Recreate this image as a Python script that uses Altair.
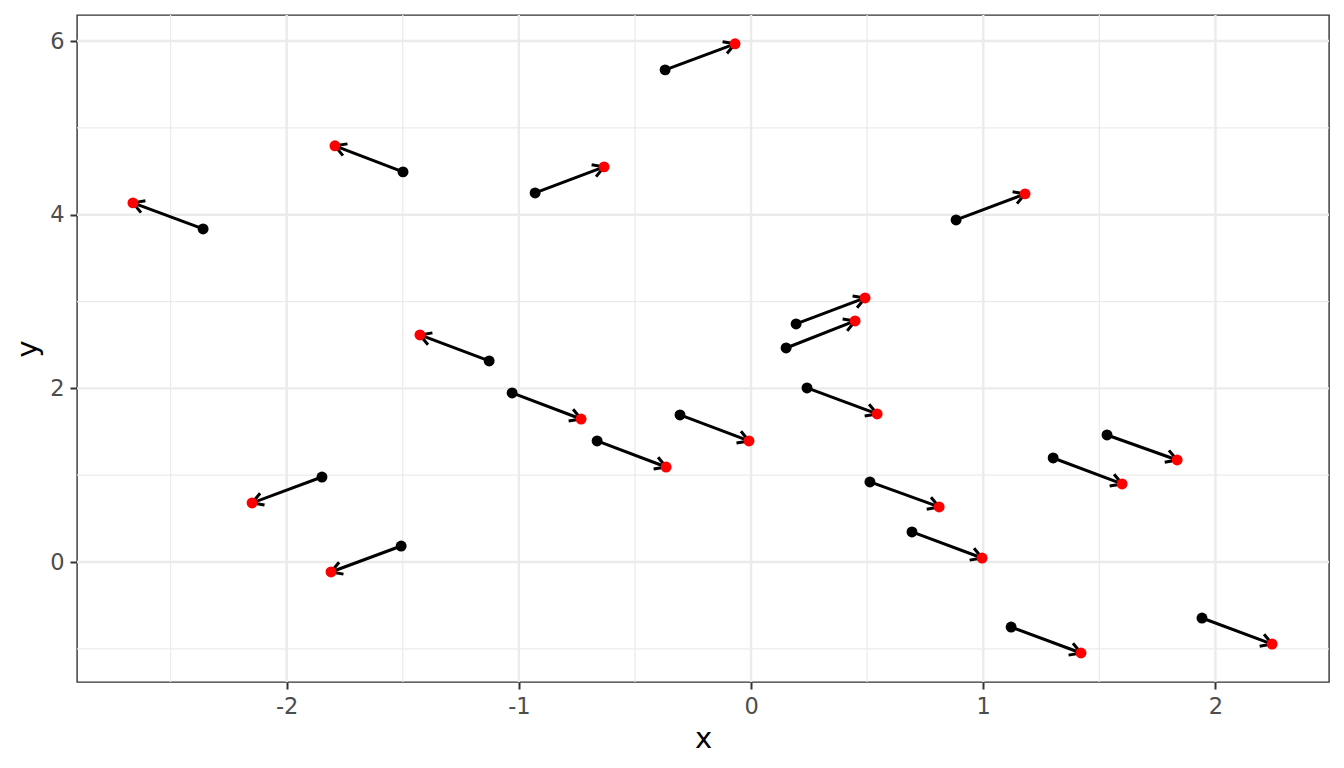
import altair as alt
import pandas as pd

# Arrow start (black points) and end (red points)
x_start = [-0.370, -1.499, -2.360, -0.930, 0.883, 0.194, 0.151, -1.128, -1.029, 0.241,
           -0.306, -0.663, 1.533, 1.301, -1.848, 0.512, -1.507, 0.693, 1.120, 1.942]
y_start = [5.668, 4.493, 3.836, 4.251, 3.940, 2.742, 2.465, 2.316, 1.947, 2.005,
           1.694, 1.394, 1.463, 1.198, 0.979, 0.922, 0.184, 0.346, -0.749, -0.645]
x_end = [-0.069, -1.792, -2.662, -0.633, 1.180, 0.491, 0.448, -1.426, -0.732, 0.543,
         -0.009, -0.366, 1.835, 1.598, -2.149, 0.810, -1.809, 0.995, 1.421, 2.244]
y_end = [5.968, 4.793, 4.136, 4.551, 4.240, 3.041, 2.776, 2.615, 1.647, 1.705,
         1.394, 1.094, 1.175, 0.899, 0.680, 0.634, -0.115, 0.046, -1.048, -0.945]

x_major = [-2, -1, 0, 1, 2]
x_minor = [-2.5, -1.5, -0.5, 0.5, 1.5]
y_major = [0, 2, 4, 6]
y_minor = [-1, 1, 3, 5]

XDOM = [-2.903, 2.489]
YDOM = [-1.382, 6.300]
W, H = 1252, 667
FONT = "DejaVu Sans"

df = pd.DataFrame({"x": x_start, "y": y_start, "xend": x_end, "yend": y_end})
kx = W / (XDOM[1] - XDOM[0])
ky = H / (YDOM[1] - YDOM[0])

xs = alt.Scale(domain=XDOM, nice=False, zero=False)
ys = alt.Scale(domain=YDOM, nice=False, zero=False)

xaxis = alt.Axis(values=x_major, titleBaseline="alphabetic", titleX=W / 2, titleY=65,
                 titleAlign="center")
yaxis = alt.Axis(values=y_major, titleBaseline="alphabetic", titleX=-41, titleY=H / 2,
                 titleAlign="center", titleAngle=270)


def X(f):
    return alt.X(f, scale=xs, axis=xaxis, title="x")


def Y(f):
    return alt.Y(f, scale=ys, axis=yaxis, title="y")


grid_x_minor = alt.Chart(pd.DataFrame({"v": x_minor})).mark_rule(
    color="#EBEBEB", strokeWidth=1.3).encode(x=X("v:Q"))
grid_x_major = alt.Chart(pd.DataFrame({"v": x_major})).mark_rule(
    color="#EBEBEB", strokeWidth=2.4).encode(x=X("v:Q"))
grid_y_minor = alt.Chart(pd.DataFrame({"v": y_minor})).mark_rule(
    color="#EBEBEB", strokeWidth=1.3).encode(y=Y("v:Q"))
grid_y_major = alt.Chart(pd.DataFrame({"v": y_major})).mark_rule(
    color="#EBEBEB", strokeWidth=2.4).encode(y=Y("v:Q"))

base = alt.Chart(df)

segs = base.mark_rule(color="black", strokeWidth=3.0).encode(
    x=X("x:Q"), y=Y("y:Q"), x2="xend:Q", y2="yend:Q",
)

heads = base.transform_calculate(
    ang=f"(atan2(-(datum.yend - datum.y) * {ky}, (datum.xend - datum.x) * {kx}) * 180 / PI + 360) % 360"
).mark_point(
    shape="M -1 -0.577 L 0 0 L -1 0.577", size=480, filled=False,
    color="black", strokeWidth=3.0, opacity=1, strokeJoin="round", strokeCap="butt",
).encode(
    x=X("xend:Q"), y=Y("yend:Q"),
    angle=alt.Angle("ang:Q", scale=None),
)

start_pts = base.mark_circle(size=120, color="black", opacity=1).encode(
    x=X("x:Q"), y=Y("y:Q"),
)
end_pts = base.mark_circle(size=120, color="#FF0000", opacity=1).encode(
    x=X("xend:Q"), y=Y("yend:Q"),
)

chart = alt.layer(
    grid_x_minor, grid_y_minor, grid_x_major, grid_y_major,
    segs, heads, start_pts, end_pts,
).properties(
    width=W, height=H,
    autosize=alt.AutoSizeParams(type="none"),
    padding={"left": 69, "top": 7, "right": 7, "bottom": 82},
    background="white",
).configure_view(
    stroke="#333333", strokeWidth=1.4, fill="white",
).configure_axis(
    grid=False, domain=False, tickColor="#333333", tickWidth=2, tickSize=7,
    labelColor="#4D4D4D", labelFontSize=22.5, labelFont=FONT, labelPadding=6,
    titleFont=FONT, titleFontSize=29, titleColor="black", titleFontWeight="normal",
    labelExpr="'' + datum.value",
)

chart.save("out.html", embed_options={"renderer": "svg", "actions": False})
